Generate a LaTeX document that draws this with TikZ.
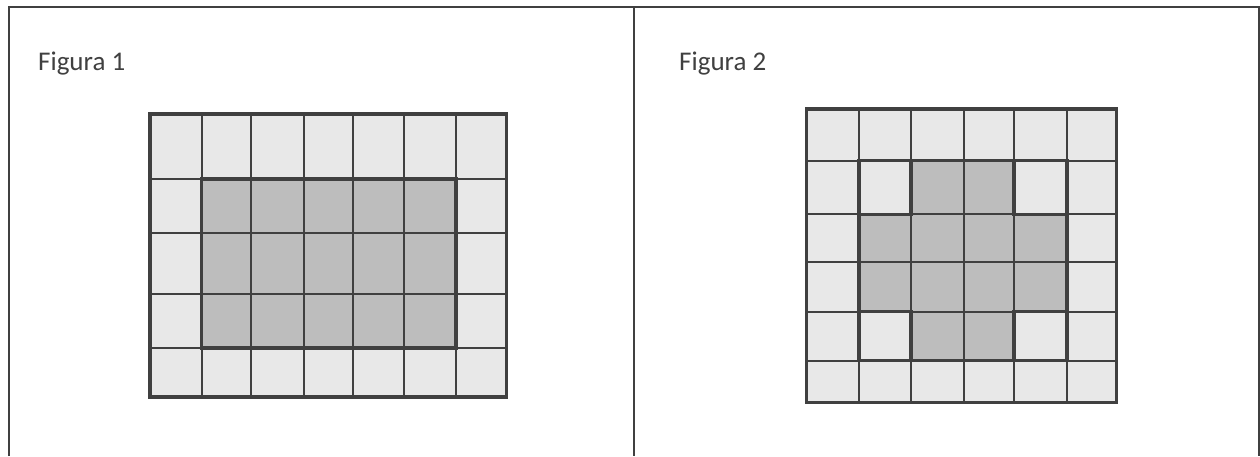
\documentclass[tikz,border=0pt]{standalone}
\usepackage{fontspec}
\setmainfont{Carlito}
\begin{document}
\begin{tikzpicture}[x=1pt,y=-1pt,
  frame/.style={draw=black!75,line width=2pt},
  thin/.style={draw=black!75,line width=2pt},
  thick/.style={draw=black!75,line width=3.2pt},
  light/.style={fill=black!9},
  dark/.style={fill=black!26},
  caption/.style={font=\fontsize{27}{30}\selectfont,text=black!75,anchor=base west,inner sep=0pt}]
\useasboundingbox (0,0) rectangle (1260,456);
% page frame
\draw[frame] (9,456) -- (9,7) -- (1259,7) -- (1259,456);
\draw[frame] (634,7) -- (634,456);
\node[caption] (fig1) at (38,70.5) {Figura 1};
\node[caption] (fig2) at (679,70.5) {Figura 2};
% ---------- grid 1 ----------
\fill[light] (150,114) rectangle (506.7,397);
\fill[dark] (201.7,179) rectangle (456,348);
\foreach \x in {201.7,250.7,303.7,352.7,404,456}
  \draw[thin] (\x,114) -- (\x,397);
\foreach \y in {179,233,294,348}
  \draw[thin] (150,\y) -- (506.7,\y);
\draw[thick] (201.7,179) rectangle (456,348);
\draw[thick] (150,114) rectangle (506.7,397);
% ---------- grid 2 ----------
\fill[light] (806.7,109) rectangle (1116.7,402.3);
\fill[dark] (911,160.7) rectangle (1014,360.7);
\fill[dark] (859,214.3) rectangle (1067,311.7);
\foreach \x in {859,911,963.7,1014,1067}
  \draw[thin] (\x,109) -- (\x,402.3);
\foreach \y in {160.7,214.3,262.3,311.7,360.7}
  \draw[thin] (806.7,\y) -- (1116.7,\y);
\draw[thick] (859,160.7) rectangle (1067,360.7);
\draw[thick] (911,160.7) -- (911,214.3) -- (859,214.3) -- (859,311.7) -- (911,311.7) -- (911,360.7)
  -- (1014,360.7) -- (1014,311.7) -- (1067,311.7) -- (1067,214.3) -- (1014,214.3) -- (1014,160.7) -- cycle;
\draw[thick] (806.7,109) rectangle (1116.7,402.3);
\end{tikzpicture}
\end{document}
